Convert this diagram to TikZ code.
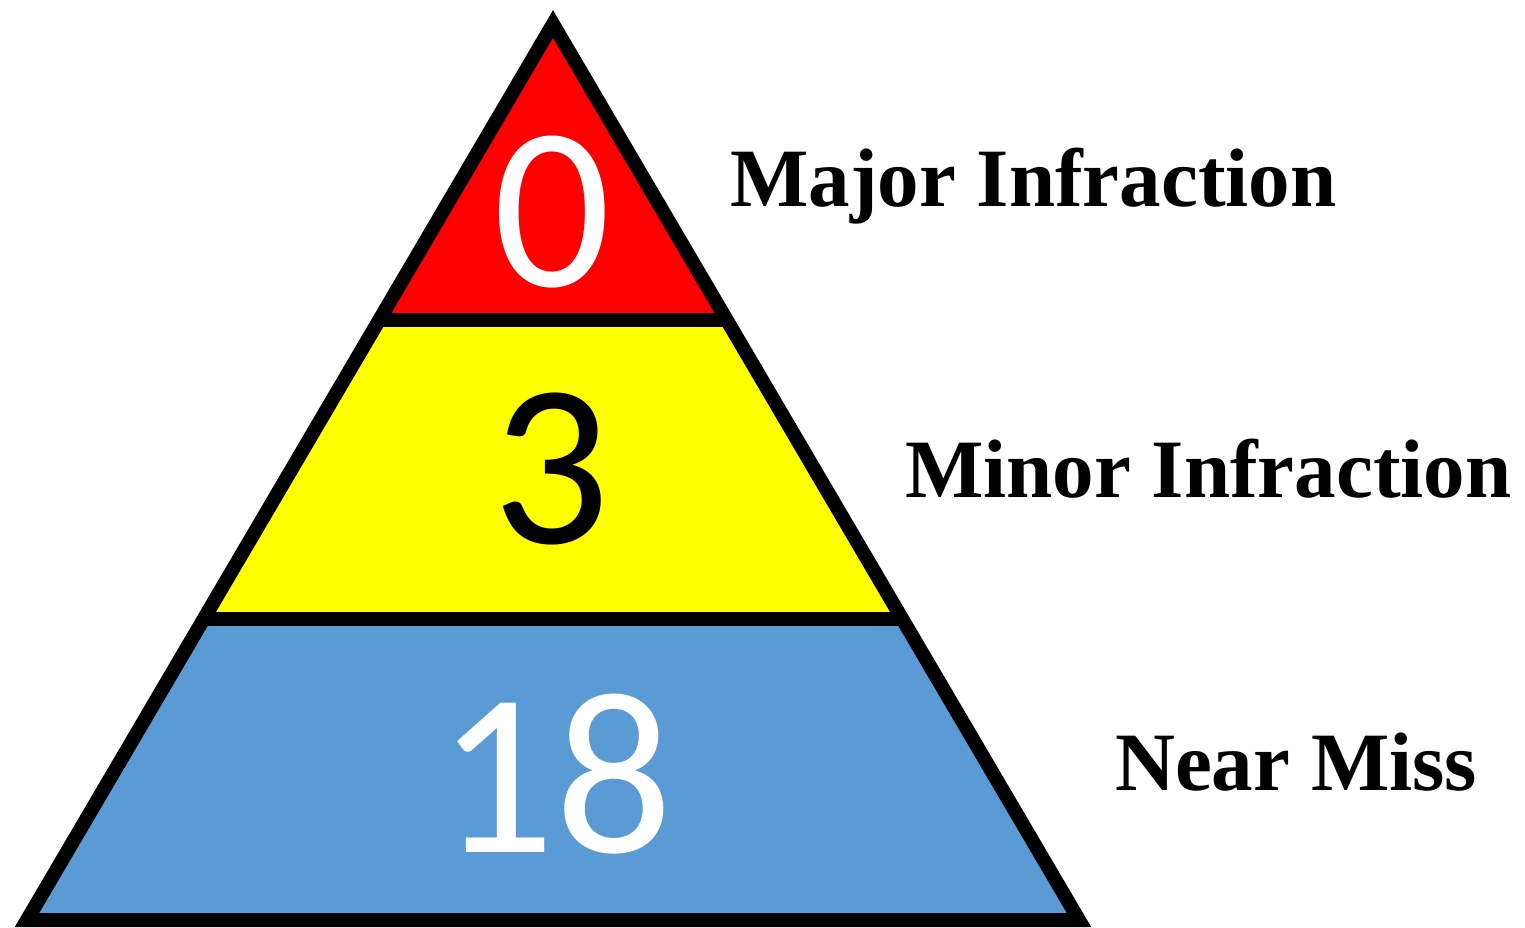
\documentclass[tikz,border=0pt]{standalone}
\usepackage{fontspec}
\setmainfont{Liberation Serif}
\newfontfamily\numfont{Carlito}
\usetikzlibrary{calc}
\definecolor{tred}{RGB}{255,0,0}
\definecolor{tyellow}{RGB}{255,255,0}
\definecolor{tblue}{RGB}{91,155,213}
\begin{document}
\begin{tikzpicture}[x=1pt,y=-1pt,
  outline/.style={draw=black,line width=14pt,line join=miter,miter limit=10},
  divider/.style={draw=black,line width=14pt},
  numlabel/.style={inner sep=0pt,anchor=base,font=\numfont\fontsize{232}{232}\selectfont},
  catlabel/.style={inner sep=0pt,anchor=base west,font=\bfseries\fontsize{83}{83}\selectfont}]
\useasboundingbox[fill=white] (0,0) rectangle (1525,928);
\coordinate (A) at (553,24);
\coordinate (BL) at (27,920);
\coordinate (BR) at (1079,920);
\coordinate (L1) at ($(A)!0.3304!(BL)$);
\coordinate (R1) at ($(A)!0.3304!(BR)$);
\coordinate (L2) at ($(A)!0.6641!(BL)$);
\coordinate (R2) at ($(A)!0.6641!(BR)$);
\fill[tred] (A) -- (R1) -- (L1) -- cycle;
\fill[tyellow] (L1) -- (R1) -- (R2) -- (L2) -- cycle;
\fill[tblue] (L2) -- (R2) -- (BR) -- (BL) -- cycle;
\draw[divider] (L1) -- (R1);
\draw[divider] (L2) -- (R2);
\draw[outline] (A) -- (BR) -- (BL) -- cycle;
\node[numlabel,text=white] (n0) at (552,286) {0};
\node[numlabel,text=black] (n3) at (551,543) {3};
\node[numlabel,text=white] (n18) at (555,852) {18};
\node[catlabel] (major) at (730,207) {Major Infraction};
\node[catlabel] (minor) at (905,497) {Minor Infraction};
\node[catlabel] (near) at (1115,790) {Near Miss};
\end{tikzpicture}
\end{document}
